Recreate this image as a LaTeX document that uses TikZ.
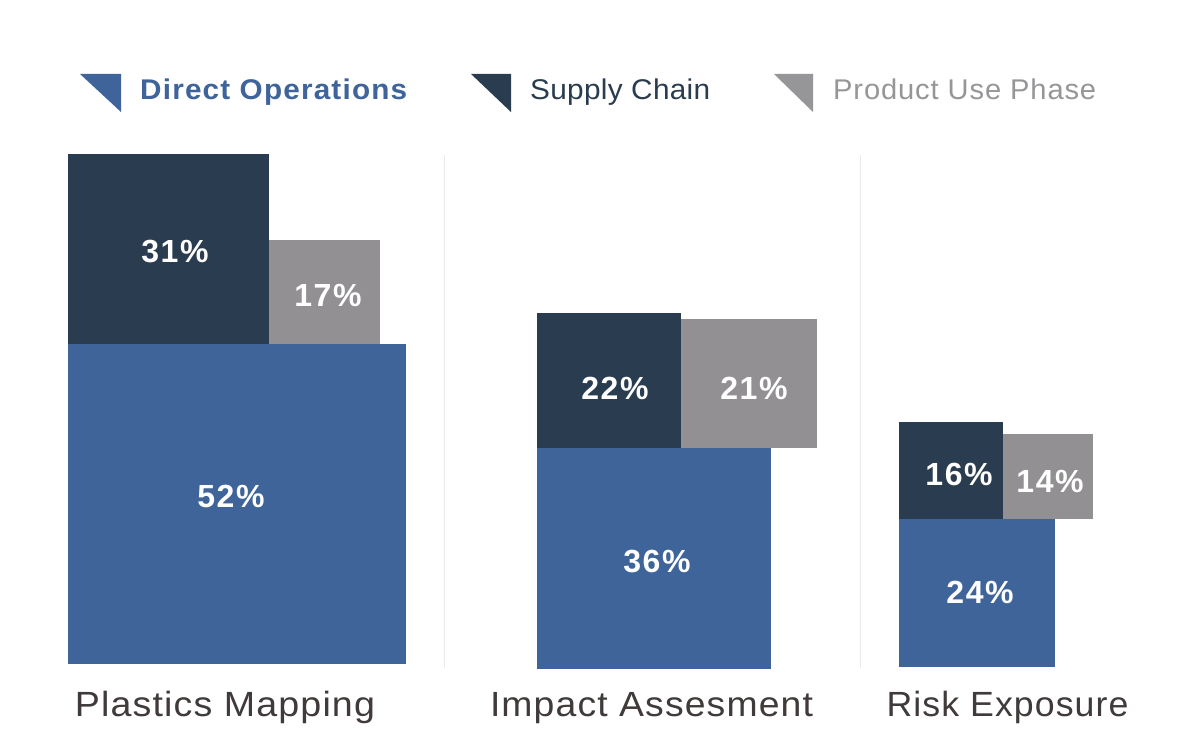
\documentclass[tikz,border=0pt]{standalone}
\usepackage{fontspec}
\setmainfont{Liberation Sans}
\usepackage{graphicx}
\definecolor{cdark}{HTML}{2A3C4F}
\definecolor{cgray}{HTML}{929093}
\definecolor{cblue}{HTML}{3F649A}
\definecolor{clgray}{HTML}{969598}
\definecolor{ctext}{HTML}{403B3A}
\definecolor{cdiv}{HTML}{EBEBEB}
\newcommand{\fitw}[2]{\resizebox{#1pt}{\height}{#2}}
\begin{document}
\begin{tikzpicture}[x=1pt,y=-1pt,
  bar/.style={draw=none,inner sep=0,outer sep=0,anchor=north west},
  pct/.style={anchor=base,inner sep=0,text=white,font=\fontsize{32}{34}\selectfont\bfseries\addfontfeatures{LetterSpace=5}},
  cat/.style={anchor=base,inner sep=0,text=ctext,font=\fontsize{35}{38}\selectfont\addfontfeatures{LetterSpace=3}},
  leg/.style={anchor=base west,inner sep=0,font=\fontsize{28.5}{30}\selectfont},
  divider/.style={draw=cdiv,line width=1pt}]
\useasboundingbox (0,0) rectangle (1177,746);
\fill[white] (0,0) rectangle (1177,746);

% legend
\fill[cblue] (80,74) -- (121,74) -- (121,112) -- cycle;
\node[leg,text=cblue] (legA) at (140,100) {\fitw{267}{\bfseries\addfontfeatures{LetterSpace=4}Direct Operations}};
\fill[cdark] (471,74) -- (511,74) -- (511,112) -- cycle;
\node[leg,text=cdark] (legB) at (530,100) {\fitw{180}{\addfontfeatures{LetterSpace=1}Supply Chain}};
\fill[clgray] (774,74) -- (813,74) -- (813,112) -- cycle;
\node[leg,text=clgray] (legC) at (833,100) {\fitw{263}{\addfontfeatures{LetterSpace=3}Product Use Phase}};

% dividers
\coordinate (d1t) at (444,155); \coordinate (d1b) at (444,668);
\coordinate (d2t) at (860,155); \coordinate (d2b) at (860,668);
\draw[divider] (d1t) -- (d1b);
\draw[divider] (d2t) -- (d2b);

% group 1
\node[bar,fill=cdark,minimum width=201,minimum height=190] (g1s) at (68,154) {};
\node[bar,fill=cgray,minimum width=111,minimum height=104] (g1p) at (269,240) {};
\node[bar,fill=cblue,minimum width=338,minimum height=320] (g1d) at (68,344) {};
\node[pct] (t1s) at (175,262) {31\%};
\node[pct] (t1p) at (328,306) {17\%};
\node[pct] (t1d) at (231,507) {52\%};

% group 2
\node[bar,fill=cdark,minimum width=144,minimum height=135] (g2s) at (537,313) {};
\node[bar,fill=cgray,minimum width=136,minimum height=129] (g2p) at (681,319) {};
\node[bar,fill=cblue,minimum width=234,minimum height=221] (g2d) at (537,448) {};
\node[pct] (t2s) at (615,399) {22\%};
\node[pct] (t2p) at (754,399) {21\%};
\node[pct] (t2d) at (657,572) {36\%};

% group 3
\node[bar,fill=cdark,minimum width=104,minimum height=97] (g3s) at (899,422) {};
\node[bar,fill=cgray,minimum width=90,minimum height=85] (g3p) at (1003,434) {};
\node[bar,fill=cblue,minimum width=156,minimum height=148] (g3d) at (899,519) {};
\node[pct] (t3s) at (959,485) {16\%};
\node[pct] (t3p) at (1050,492) {14\%};
\node[pct] (t3d) at (980,603) {24\%};

% category labels
\node[cat] (c1) at (225,716) {\fitw{300}{Plastics Mapping}};
\node[cat] (c2) at (651.5,716) {\fitw{323}{Impact Assesment}};
\node[cat] (c3) at (1007.5,716) {\fitw{242}{Risk Exposure}};
\end{tikzpicture}
\end{document}
